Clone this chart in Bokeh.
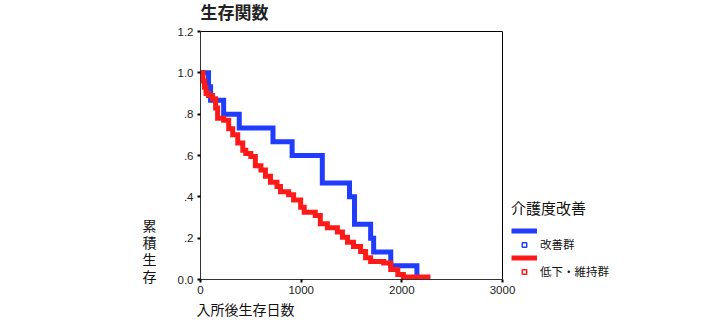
from bokeh.plotting import figure
from bokeh.models import (Legend, LegendItem, ColumnDataSource, Range1d, Title,
                          LinearAxis, FixedTicker)
from bokeh.core.properties import value
from bokeh.embed import file_html
from bokeh.resources import INLINE

# ---- data ----
blue_days = [0, 80, 100, 230, 385, 720, 910, 1210, 1480, 1530, 1690, 1720, 1890, 2150]
blue_surv = [1.0, 0.933, 0.867, 0.8, 0.733, 0.667, 0.6, 0.467, 0.4, 0.267, 0.2, 0.133, 0.067, 0.0]

red_days = [0, 25, 40, 55, 80, 120, 150, 170, 230, 280, 320, 370, 420, 450, 500,
            545, 600, 645, 695, 760, 795, 875, 925, 995, 1030, 1140, 1190, 1260,
            1360, 1410, 1460, 1520, 1590, 1640, 1690, 1820, 1890, 1960, 2015, 2260]
red_surv = [1.0, 0.96, 0.93, 0.90, 0.89, 0.875, 0.83, 0.78, 0.77, 0.73, 0.70, 0.66,
            0.625, 0.61, 0.595, 0.55, 0.53, 0.50, 0.47, 0.45, 0.425, 0.41, 0.385,
            0.35, 0.325, 0.31, 0.27, 0.25, 0.23, 0.205, 0.18, 0.16, 0.135, 0.105,
            0.087, 0.08, 0.048, 0.024, 0.012, 0.0]

x_ticks = [0, 1000, 2000, 3000]
y_ticks = [0.0, 0.2, 0.4, 0.6, 0.8, 1.0, 1.2]
y_tick_labels = ["0.0", ".2", ".4", ".6", ".8", "1.0", "1.2"]

title_text = "生存関数"
x_label = "入所後生存日数"
y_label = "累積生存"
legend_title = "介護度改善"
group_names = ["改善群", "低下・維持群"]
colors = ["#1f3cff", "#ff1a1a"]

JP = "Noto Sans CJK JP"
LAT = "Liberation Sans"

# ---- layout geometry ----
W, H = 720, 320
LEFT, BOTTOM = 200, 41
BOX_TOP = 31                     # pixel row of the box's top edge
BOX_W = 302                      # width of the plotting box in pixels
x_min, x_max = 0, 3000
y_min, y_max = 0, 1.2
frame_w = W - LEFT
frame_h = H - BOTTOM
box_h = frame_h - BOX_TOP
px_y = (y_max - y_min) / box_h
x_end = x_min + (x_max - x_min) * frame_w / BOX_W   # frame extends right for the legend
y_end = y_max + BOX_TOP * px_y                      # and up for the title

p = figure(frame_width=frame_w, frame_height=frame_h, output_backend="svg",
           toolbar_location=None,
           x_range=Range1d(x_min, x_end), y_range=Range1d(y_min, y_end),
           min_border_left=LEFT, min_border_right=0, min_border_top=0,
           min_border_bottom=0)
p.title.visible = False
p.xgrid.visible = False
p.ygrid.visible = False
p.outline_line_color = None
p.background_fill_color = "white"
p.border_fill_color = "white"

for ax in (p.xaxis[0], p.yaxis[0]):
    ax.axis_line_color = "#333333"
    ax.major_tick_line_color = "#000000"
    ax.major_tick_line_width = 2
    ax.major_tick_out = 3
    ax.major_tick_in = 0
    ax.minor_tick_line_color = None
    ax.major_label_text_font = LAT
    ax.major_label_text_font_size = "11.5px"
    ax.major_label_text_color = "#222222"

p.xaxis.major_label_standoff = 3
p.yaxis.major_label_standoff = 4
p.xaxis.ticker = x_ticks
p.xaxis.bounds = (x_min, x_max)
p.yaxis.ticker = y_ticks
p.yaxis.bounds = (y_min, y_max)
p.yaxis.major_label_overrides = {v: t for v, t in zip(y_ticks, y_tick_labels)}

# box border (top and right) of the plotting area
p.segment(x0=[x_min, x_max], y0=[y_max, y_min], x1=[x_max, x_max], y1=[y_max, y_max],
          line_color="#000000", line_width=1)

# stacked, upright y label as a single tick label of an extra left axis
y_label_pos = 0.14
yl_axis = LinearAxis(ticker=FixedTicker(ticks=[y_label_pos]),
                     major_label_overrides={y_label_pos: "\n".join(y_label)})
yl_axis.axis_line_color = None
yl_axis.major_tick_line_color = None
yl_axis.minor_tick_line_color = None
yl_axis.major_label_text_font = JP
yl_axis.major_label_text_font_size = "14px"
yl_axis.major_label_text_color = "#111111"
yl_axis.major_label_text_line_height = 0.845
yl_axis.major_label_standoff = 12
p.add_layout(yl_axis, "left")

src_b = ColumnDataSource(dict(x=blue_days, y=blue_surv))
src_r = ColumnDataSource(dict(x=red_days, y=red_surv))
rb = p.step("x", "y", source=src_b, mode="after", line_width=5, line_color=colors[0], line_join="miter")
rr = p.step("x", "y", source=src_r, mode="after", line_width=5, line_color=colors[1], line_join="miter")

# invisible (NaN) marker renderers that only provide the legend squares
nan = float("nan")
mb = p.scatter(x=[nan], y=[nan], marker="square", size=6, fill_color="white", line_color=colors[0], line_width=1.5)
mr = p.scatter(x=[nan], y=[nan], marker="square", size=6, fill_color="white", line_color=colors[1], line_width=1.5)

legend = Legend(items=[
    LegendItem(label=" ", renderers=[rb]),
    LegendItem(label=group_names[0], renderers=[mb]),
    LegendItem(label=" ", renderers=[rr]),
    LegendItem(label=group_names[1], renderers=[mr]),
], location=(BOX_W + 9, 0))
legend.title = legend_title
legend.title_text_font = JP
legend.title_text_font_size = "15px"
legend.title_text_font_style = "normal"
legend.title_text_color = "#111111"
legend.title_standoff = 7
legend.label_text_font = JP
legend.label_text_font_size = "11.5px"
legend.label_text_color = "#111111"
legend.glyph_width = 26
legend.glyph_height = 11
legend.label_height = 11
legend.label_standoff = 3
legend.spacing = 0
legend.padding = 6
legend.margin = 0
legend.border_line_color = None
legend.background_fill_alpha = 0
p.add_layout(legend, "center")

# title inside the (extended) frame, above the box
p.text(x=[x_min], y=[y_max + 20 * px_y], text=[title_text], text_font=value(JP),
       text_font_size="17px", text_font_style="bold", text_color="#222222",
       text_baseline="middle", text_align="left")

# x label below, left aligned
p.add_layout(Title(text=x_label, align="left", text_font=JP, text_font_size="14px",
                   text_font_style="normal", text_color="#111111", offset=-4,
                   standoff=0), "below")

open("out.html", "w").write(file_html(p, INLINE))
